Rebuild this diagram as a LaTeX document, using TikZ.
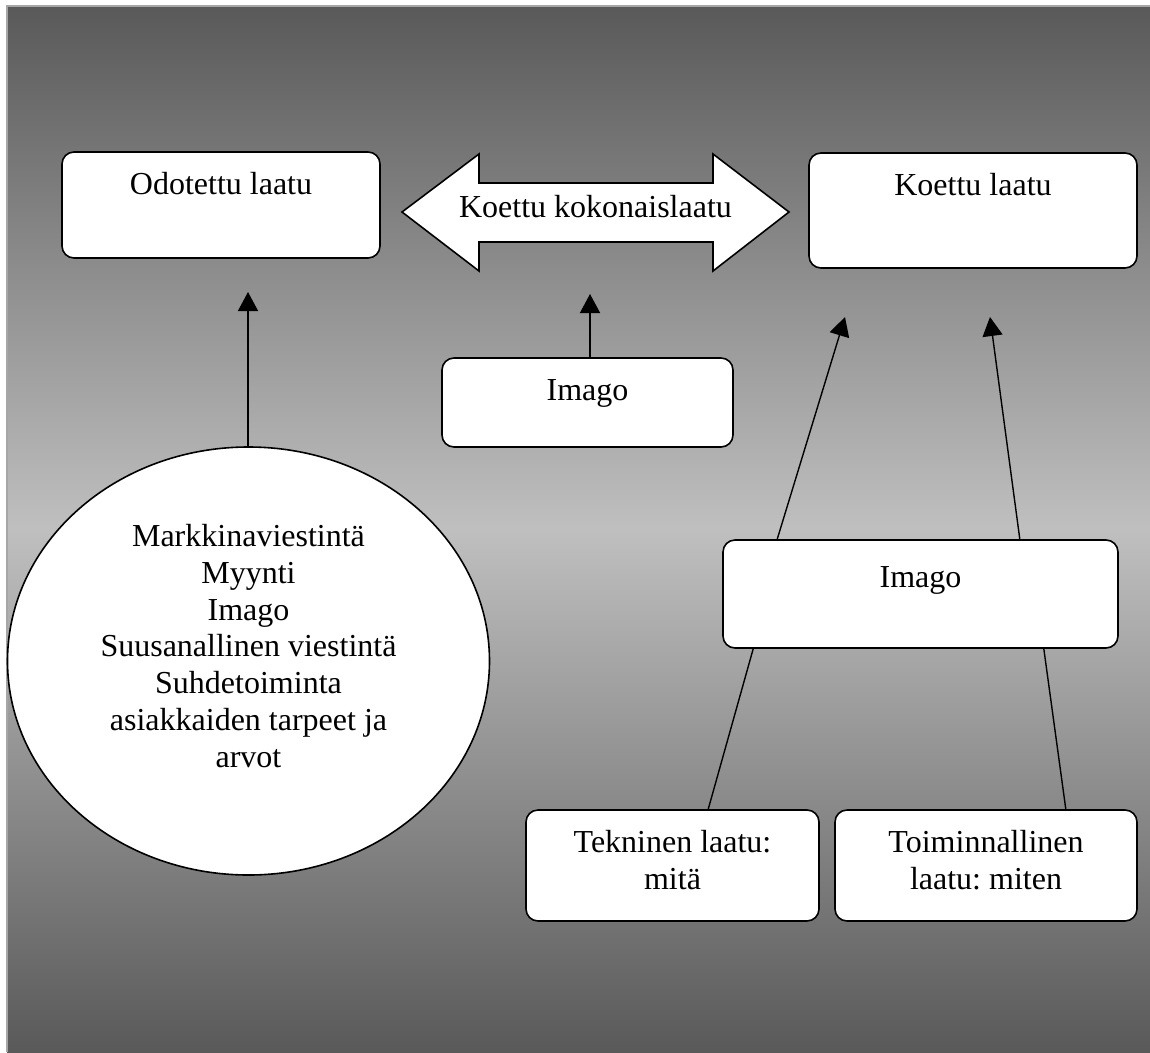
\documentclass[tikz,border=0pt]{standalone}
\usepackage{fontspec}
\setmainfont{Liberation Serif}
\frenchspacing
\usetikzlibrary{arrows.meta,shapes.geometric,calc}
\begin{document}
\begin{tikzpicture}[x=1pt,y=-1pt,
  box/.style={draw=black, line width=1.6pt, fill=white, rounded corners=12pt, inner sep=0pt},
  oval/.style={draw=black, line width=1.6pt, fill=white, ellipse, inner sep=0pt},
  txt/.style={font=\fontsize{32}{36.7}\selectfont, anchor=base, inner sep=0pt, align=center},
  arr/.style={line width=1.4pt, -{Triangle[length=19pt,width=20pt]}},
  ln/.style={line width=1.4pt}
]
\useasboundingbox (0,0) rectangle (1150,1052);
\fill[white] (0,0) rectangle (1150,1052);
\begin{scope}[y=1pt]
\shade[top color=black!65, bottom color=black!25] (7,-6) rectangle (1150,-529);
\shade[top color=black!25, bottom color=black!65] (7,-529) rectangle (1150,-1052);
\end{scope}
\draw[black!35, line width=1.2pt] (7,1052) -- (7,6) -- (1150,6);

% boxes
\node[box, minimum width=318pt, minimum height=106pt] (odot) at (221,205) {};
\node[txt] (odotT) at (221,194) {Odotettu laatu};

\node[box, minimum width=328pt, minimum height=115pt] (koet) at (973,210.5) {};
\node[txt] (koetT) at (973,195) {Koettu laatu};

\draw[line width=1.6pt, fill=white, line join=miter]
  (402,212) -- (479,154) -- (479,183) -- (713,183) -- (713,154) -- (789,212)
  -- (713,271) -- (713,242) -- (479,242) -- (479,271) -- cycle;
\node[txt] (koko) at (595.5,217) {Koettu kokonaislaatu};

\node[box, minimum width=291pt, minimum height=89pt] (imA) at (587.5,402.5) {};
\node[txt] (imAT) at (587.5,400) {Imago};

\node[box, minimum width=395pt, minimum height=108pt] (imB) at (920.5,594) {};
\node[txt] (imBT) at (920.5,587) {Imago};

\node[box, minimum width=293pt, minimum height=111pt] (tekn) at (672.5,865.5) {};
\node[txt] (teknT) at (672.5,889) {Tekninen laatu:\\mitä};

\node[box, minimum width=302pt, minimum height=111pt] (toim) at (986,865.5) {};
\node[txt] (toimT) at (986,889) {Toiminnallinen\\laatu: miten};

\node[oval, minimum width=482pt, minimum height=428pt] (ell) at (248.5,661) {};
\node[txt] (ellT) at (248.5,767) {Markkinaviestintä\\Myynti\\Imago\\Suusanallinen viestintä\\Suhdetoiminta\\asiakkaiden tarpeet ja\\arvot};

% connectors
\coordinate (tA) at (248,292);
\coordinate (tB) at (590,294);
\coordinate (tC) at (845,317);
\coordinate (tD) at (990,317);
\draw[arr] (ell.north -| tA) -- (tA);
\draw[arr] (imA.north -| tB) -- (tB);
\draw[arr] ([xshift=55pt]imB.north west) -- (tC);
\draw[arr] ([xshift=-99pt]imB.north east) -- (tD);
\draw[ln] ([xshift=31pt]imB.south west) -- ([xshift=183pt]tekn.north west);
\draw[ln] ([xshift=-75pt]imB.south east) -- ([xshift=-72pt]toim.north east);
\end{tikzpicture}
\end{document}
